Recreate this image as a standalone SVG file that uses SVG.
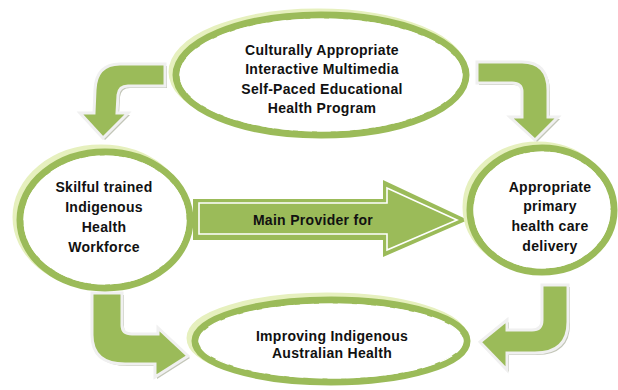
<svg xmlns="http://www.w3.org/2000/svg" width="618" height="390" viewBox="0 0 618 390">
<style>
.glow{fill:none;stroke:#E6F0BE;stroke-width:9}
.ring{fill:#fff;stroke:#9BBB59;stroke-width:7}
.dash{fill:none;stroke:#fff;stroke-width:1.2;stroke-dasharray:14 5}
.arr{fill:#9BBB59;stroke:#F0F0F0;stroke-width:3;stroke-linejoin:miter}
.shadow{fill:#A9AE9A;opacity:0.7}
.big{fill:#9BBB59}
.inner{fill:none;stroke:#fff;stroke-width:1.6}
text{font-family:"Liberation Sans",Arial,sans-serif;font-weight:bold;font-size:14px;letter-spacing:0.3px;fill:#111;text-anchor:middle}
</style>
<rect width="618" height="390" fill="#fff"/>
<g id="connectors">
  <g id="arrow-top-left">
    <path class="shadow" d="M167,66 L122,66 Q98,66 97,92 L96,115 L82,115 L105,140 L130,115 L119,115 L120,97 Q121,88 130,88 L167,88 Z"/>
    <path class="arr" d="M165,64 L120,64 Q96,64 95,90 L94,113 L80,113 L103,138 L128,113 L117,113 L118,95 Q119,86 128,86 L165,86 Z"/>
  </g>
  <g id="arrow-top-right">
    <path class="shadow" d="M479,64 L524,64 Q550,64 550,92 L550,119 L560,119 L537,142 L512,119 L524,119 L524,94 Q524,85 514,85 L479,85 Z"/>
    <path class="arr" d="M477,62 L522,62 Q548,62 548,90 L548,117 L558,117 L535,140 L510,117 L522,117 L522,92 Q522,83 512,83 L477,83 Z"/>
  </g>
  <g id="arrow-bottom-left">
    <path class="shadow" d="M94,295 L124,295 L124,327 Q124,336 134,336 L160,336 L160,330 L190,358 L157,379 L157,366 L127,366 Q94,366 94,337 Z"/>
    <path class="arr" d="M92,293 L122,293 L122,325 Q122,334 132,334 L158,334 L158,328 L188,356 L155,377 L155,364 L125,364 Q92,364 92,335 Z"/>
  </g>
  <g id="arrow-bottom-right">
    <path class="shadow" d="M544,287 L570,287 L570,324 Q570,355 537,355 L509,355 L509,372 L482,344 L509,322 L509,332 L534,332 Q544,332 544,322 Z"/>
    <path class="arr" d="M542,285 L568,285 L568,322 Q568,353 535,353 L507,353 L507,370 L480,342 L507,320 L507,330 L532,330 Q542,330 542,320 Z"/>
  </g>
  <g id="arrow-main">
    <polygon class="big" points="193,199 383,199 383,180 468,220 383,257 383,240 193,240"/>
    <polygon class="inner" points="199,203 387,203 387,188 457,220 387,250 387,234 199,234"/>
    <text x="313" y="225">Main Provider for</text>
  </g>
</g>
<g id="node-program">
  <ellipse class="glow" cx="318" cy="72" rx="145" ry="59"/>
  <ellipse class="ring" cx="321" cy="75" rx="145" ry="60"/>
  <ellipse class="dash" cx="321" cy="75" rx="141" ry="56"/>
  <text x="322" y="55">Culturally Appropriate</text>
  <text x="322" y="74">Interactive Multimedia</text>
  <text x="322" y="94">Self-Paced Educational</text>
  <text x="322" y="113">Health Program</text>
</g>
<g id="node-workforce">
  <ellipse class="glow" cx="101" cy="217" rx="84" ry="68"/>
  <ellipse class="ring" cx="105" cy="220" rx="85" ry="68"/>
  <ellipse class="dash" cx="105" cy="220" rx="81" ry="64"/>
  <text x="104" y="192">Skilful trained</text>
  <text x="104" y="212">Indigenous</text>
  <text x="104" y="232">Health</text>
  <text x="104" y="252">Workforce</text>
</g>
<g id="node-delivery">
  <ellipse class="glow" cx="538" cy="207" rx="71" ry="61"/>
  <ellipse class="ring" cx="542" cy="210" rx="72" ry="62"/>
  <ellipse class="dash" cx="542" cy="210" rx="68" ry="58"/>
  <text x="550" y="192">Appropriate</text>
  <text x="550" y="211">primary</text>
  <text x="550" y="231">health care</text>
  <text x="550" y="251">delivery</text>
</g>
<g id="node-health">
  <ellipse class="glow" cx="327" cy="338" rx="136" ry="41"/>
  <ellipse class="ring" cx="331" cy="341" rx="136" ry="41"/>
  <ellipse class="dash" cx="331" cy="341" rx="132" ry="37"/>
  <text x="332" y="341">Improving Indigenous</text>
  <text x="332" y="358">Australian Health</text>
</g>
</svg>
